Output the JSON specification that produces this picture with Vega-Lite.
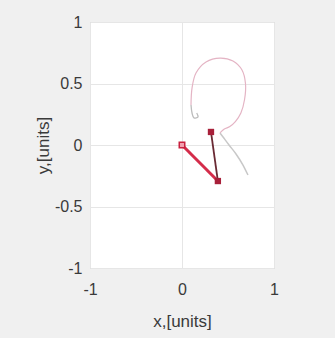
{
  "$schema": "https://vega.github.io/schema/vega-lite/v6.json",
  "autosize": {"type": "none"},
  "padding": {"left": 90, "top": 22, "right": 61, "bottom": 70},
  "width": 184,
  "height": 246,
  "background": "#f0f0f0",
  "config": {
    "view": {"fill": "#ffffff", "stroke": "#c4c4c4", "strokeWidth": 1},
    "font": "Liberation Sans",
    "axis": {
      "labelFont": "Liberation Sans",
      "titleFont": "Liberation Sans",
      "labelFontSize": 16,
      "titleFontSize": 17,
      "titleFontWeight": "normal",
      "labelColor": "#3a3a3a",
      "titleColor": "#3a3a3a",
      "ticks": false,
      "domain": false,
      "gridColor": "#e6e6e6",
      "gridWidth": 1
    }
  },
  "datasets": {
    "trace": [
      {"part": "old", "i": 1, "x": 0.717, "y": -0.244},
      {"part": "old", "i": 2, "x": 0.663, "y": -0.163},
      {"part": "old", "i": 3, "x": 0.587, "y": -0.073},
      {"part": "old", "i": 4, "x": 0.511, "y": 0.0},
      {"part": "old", "i": 5, "x": 0.446, "y": 0.065},
      {"part": "old", "i": 6, "x": 0.413, "y": 0.098},
      {"part": "new", "i": 7, "x": 0.413, "y": 0.098},
      {"part": "new", "i": 8, "x": 0.46, "y": 0.13},
      {"part": "new", "i": 9, "x": 0.52, "y": 0.15},
      {"part": "new", "i": 10, "x": 0.58, "y": 0.19},
      {"part": "new", "i": 11, "x": 0.64, "y": 0.26},
      {"part": "new", "i": 12, "x": 0.68, "y": 0.37},
      {"part": "new", "i": 13, "x": 0.69, "y": 0.5},
      {"part": "new", "i": 14, "x": 0.652, "y": 0.61},
      {"part": "new", "i": 15, "x": 0.554, "y": 0.683},
      {"part": "new", "i": 16, "x": 0.413, "y": 0.707},
      {"part": "new", "i": 17, "x": 0.261, "y": 0.675},
      {"part": "new", "i": 18, "x": 0.152, "y": 0.585},
      {"part": "new", "i": 19, "x": 0.109, "y": 0.463},
      {"part": "new", "i": 20, "x": 0.098, "y": 0.325},
      {"part": "hook", "i": 21, "x": 0.098, "y": 0.325},
      {"part": "hook", "i": 22, "x": 0.109, "y": 0.26},
      {"part": "hook", "i": 23, "x": 0.13, "y": 0.22},
      {"part": "hook", "i": 24, "x": 0.174, "y": 0.228},
      {"part": "hook", "i": 25, "x": 0.16, "y": 0.26}
    ],
    "links": [
      {"link": "l1", "i": 1, "x": 0, "y": 0},
      {"link": "l1", "i": 2, "x": 0.39, "y": -0.293},
      {"link": "l2", "i": 1, "x": 0.39, "y": -0.293},
      {"link": "l2", "i": 2, "x": 0.315, "y": 0.106}
    ],
    "joints": [
      {"joint": "pivot", "x": 0, "y": 0},
      {"joint": "m1", "x": 0.39, "y": -0.293},
      {"joint": "m2", "x": 0.315, "y": 0.106}
    ]
  },
  "encoding": {
    "x": {
      "field": "x", "type": "quantitative",
      "scale": {"domain": [-1, 1], "nice": false, "zero": false},
      "axis": {"values": [-1, 0, 1], "labelExpr": "'' + datum.value", "labelPadding": 13, "title": "x,[units]", "titlePadding": 16, "labelFlush": false}
    },
    "y": {
      "field": "y", "type": "quantitative",
      "scale": {"domain": [-1, 1], "nice": false, "zero": false},
      "axis": {"values": [-1, -0.5, 0, 0.5, 1], "labelExpr": "'' + datum.value", "labelPadding": 8, "title": "y,[units]", "titlePadding": 2, "labelFlush": false}
    }
  },
  "layer": [
    {
      "data": {"name": "trace"},
      "transform": [{"filter": "datum.part == 'old'"}],
      "mark": {"type": "line", "color": "#c8c8c8", "strokeWidth": 1.5, "interpolate": "monotone"},
      "encoding": {"order": {"field": "i"}}
    },
    {
      "data": {"name": "trace"},
      "transform": [{"filter": "datum.part == 'new'"}],
      "mark": {"type": "line", "color": "#e4b4c4", "strokeWidth": 1.2, "interpolate": "catmull-rom"},
      "encoding": {"order": {"field": "i"}}
    },
    {
      "data": {"name": "trace"},
      "transform": [{"filter": "datum.part == 'hook'"}],
      "mark": {"type": "line", "color": "#bcbcbc", "strokeWidth": 1.3, "interpolate": "catmull-rom"},
      "encoding": {"order": {"field": "i"}}
    },
    {
      "data": {"name": "links"},
      "transform": [{"filter": "datum.link == 'l1'"}],
      "mark": {"type": "line", "color": "#d42c4a", "strokeWidth": 3},
      "encoding": {"order": {"field": "i"}}
    },
    {
      "data": {"name": "links"},
      "transform": [{"filter": "datum.link == 'l2'"}],
      "mark": {"type": "line", "color": "#6a2a34", "strokeWidth": 1.8},
      "encoding": {"order": {"field": "i"}}
    },
    {
      "data": {"name": "joints"},
      "transform": [{"filter": "datum.joint == 'pivot'"}],
      "mark": {"type": "point", "shape": "square", "size": 30, "filled": true, "color": "#f2a0b0", "stroke": "#c8203e", "strokeWidth": 1.5, "opacity": 1}
    },
    {
      "data": {"name": "joints"},
      "transform": [{"filter": "datum.joint != 'pivot'"}],
      "mark": {"type": "point", "shape": "square", "size": 40, "filled": true, "color": "#a8203a", "opacity": 1}
    }
  ]
}
